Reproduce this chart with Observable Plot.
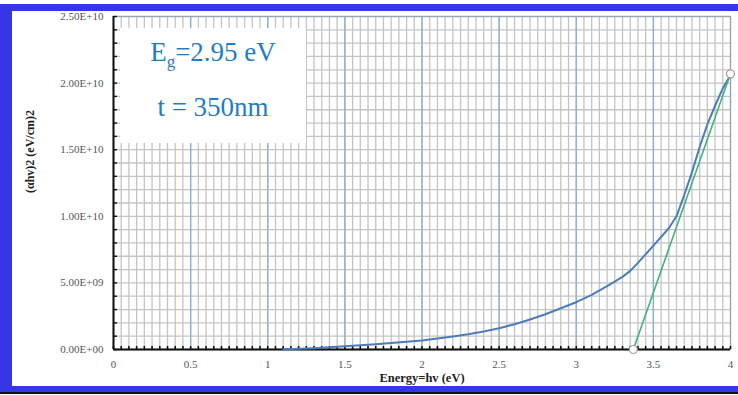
<!DOCTYPE html>
<html>
<head>
<meta charset="utf-8">
<script src="https://cdn.jsdelivr.net/npm/d3@7"></script>
<script src="https://cdn.jsdelivr.net/npm/@observablehq/plot@0.6"></script>
<style>
  html, body { margin: 0; padding: 0; background: #fff; }
  #wrap { position: relative; width: 738px; height: 395px; overflow: hidden; background: #fff; }
  .band { position: absolute; background: #3636e6; }
  #box { position: absolute; left: 120px; top: 28px; width: 186px; height: 115px; background: #fff;
         font-family: "Liberation Serif", "Times New Roman", serif; color: #1f7cc6; font-size: 27px; text-align: center; }
  #box div { position: absolute; left: 0; width: 100%; }
  sub { font-size: 17px; vertical-align: -6px; line-height: 0; }
</style>
</head>
<body>
<div id="wrap">
  <div id="chart"></div>
  <div id="box"><div style="top:9px">E<sub>g</sub>=2.95 eV</div><div style="top:64px">t = 350nm</div></div>
  <div class="band" style="left:0;top:4px;width:738px;height:7px"></div>
  <div class="band" style="left:0;top:4px;width:12px;height:388px"></div>
  <div class="band" style="left:0;top:386px;width:738px;height:6px"></div>
  <div style="position:absolute;left:0;top:392px;width:738px;height:2px;background:#111"></div>
</div>
<script>
// Measured curve: photon energy (eV) vs (αhν)^2 (eV/cm)^2
const energy = [1.1,1.2,1.3,1.4,1.5,1.6,1.7,1.8,1.9,2.0,2.1,2.2,2.3,2.4,2.5,2.6,2.7,2.8,2.9,3.0,3.1,3.2,3.3,3.35,3.4,3.5,3.6,3.65,3.7,3.75,3.8,3.85,3.9,3.95,4.0];
const alphaHv2 = [0.0,0.05,0.1,0.17,0.25,0.32,0.4,0.48,0.58,0.68,0.82,0.98,1.15,1.35,1.6,1.9,2.25,2.65,3.1,3.55,4.1,4.75,5.45,5.9,6.5,7.8,9.1,10.0,11.6,13.3,15.2,16.9,18.3,19.6,20.6].map(v => v * 1e9);
// Linear extrapolation (tangent) end points
const fitEnergy = [3.37, 4.0];
const fitValue = [0, 2.07e10];
// Axis ticks
const xLabelTicks = [0, 0.5, 1, 1.5, 2, 2.5, 3, 3.5, 4];
const yLabelTicks = [0, 5e9, 1e10, 1.5e10, 2e10, 2.5e10];
const xMinorTicks = d3.range(0, 81).map(i => i * 0.05);
const yMinorTicks = d3.range(0, 26).map(i => i * 1e9);
const xMajorGrid = [0.5, 1, 1.5, 2, 2.5, 3, 3.5];

const curve = energy.map((e, i) => ({e, v: alphaHv2[i]}));
const fit = fitEnergy.map((e, i) => ({e, v: fitValue[i]}));

const fmtE = d => {
  const s = d3.format(".2e")(d).toUpperCase();
  return s.replace(/E([+-])(\d)$/, "E$10$2");
};
const serif = "Liberation Serif, Times New Roman, serif";

const chart = Plot.plot({
  width: 738,
  height: 395,
  marginLeft: 113,
  marginRight: 8,
  marginTop: 16,
  marginBottom: 46,
  style: {fontFamily: serif, background: "transparent"},
  x: {domain: [0, 4]},
  y: {domain: [0, 2.5e10]},
  marks: [
    Plot.gridX({ticks: xMinorTicks, stroke: "#c4c4c4", strokeOpacity: 1, strokeWidth: 1.3}),
    Plot.gridY({ticks: yMinorTicks, stroke: "#c4c4c4", strokeOpacity: 1, strokeWidth: 1.3}),
    Plot.gridX({ticks: xMajorGrid, stroke: "#8aaed0", strokeOpacity: 1, strokeWidth: 1.3}),
    Plot.frame({stroke: "#9aa4b0", strokeWidth: 1.2}),
    Plot.axisY({ticks: yMinorTicks, tickSize: 4, dx: 4, tickFormat: () => "", stroke: "#111", strokeWidth: 1.4, label: null}),
    Plot.axisX({ticks: xMinorTicks, tickSize: 3, dy: -3, tickFormat: () => "", stroke: "#111", strokeWidth: 1.6, label: null}),
    Plot.axisY({ticks: yLabelTicks, tickSize: 0, tickPadding: 10, tickFormat: fmtE, fill: "#555", fontSize: 11, label: null}),
    Plot.axisX({ticks: xLabelTicks, tickSize: 0, tickPadding: 11, tickFormat: d => String(d), fill: "#555", fontSize: 11, label: null}),
    Plot.ruleY([0], {stroke: "#111", strokeWidth: 2}),
    Plot.ruleX([0], {stroke: "#111", strokeWidth: 2}),
    Plot.line(curve, {x: "e", y: "v", stroke: "#4d7db8", strokeWidth: 2}),
    Plot.line(fit, {x: "e", y: "v", stroke: "#45b07c", strokeWidth: 1.6}),
    Plot.dot(fit, {x: "e", y: "v", r: 4, fill: "white", stroke: "#9a9a9a", strokeWidth: 1.2}),
    Plot.text(["Energy=hv (eV)"], {frameAnchor: "bottom", dy: 32, fontWeight: "bold", fontSize: 12.5, fill: "#222"}),
    Plot.text(["(αhv)2 (eV/cm)2"], {frameAnchor: "left", dx: -83, dy: 10, rotate: -90, fontWeight: "bold", fontSize: 12, fill: "#222"})
  ]
});
document.getElementById("chart").append(chart);
</script>
</body>
</html>
